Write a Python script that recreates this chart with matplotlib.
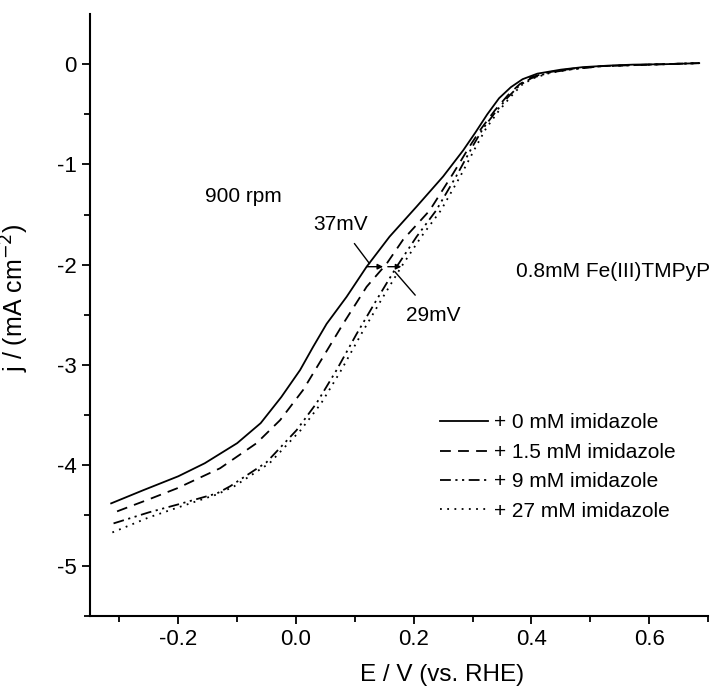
import numpy as np
import matplotlib
matplotlib.use('Agg')
import matplotlib.pyplot as plt

plt.rcParams['font.family'] = ['Liberation Sans', 'DejaVu Sans']
plt.rcParams['axes.unicode_minus'] = False

# polarisation curves: E (V vs RHE), j (mA cm-2)
e_0mM = [-0.314, -0.26, -0.2, -0.155, -0.10, -0.06, -0.025, 0.007, 0.029, 0.052, 0.086, 0.12,
         0.159, 0.205, 0.25, 0.284, 0.305, 0.325, 0.345, 0.365, 0.385, 0.41, 0.45, 0.487,
         0.53, 0.572, 0.63, 0.685]
j_0mM = [-4.38, -4.25, -4.11, -3.98, -3.78, -3.58, -3.32, -3.05, -2.82, -2.59, -2.32, -2.02,
         -1.72, -1.42, -1.12, -0.86, -0.68, -0.50, -0.34, -0.23, -0.15, -0.095, -0.055, -0.03,
         -0.015, -0.005, 0.0, 0.01]

e_1_5mM = [-0.304, -0.25, -0.202, -0.129, -0.067, -0.027, 0.012, 0.046, 0.080, 0.12, 0.154,
           0.182, 0.227, 0.267, 0.295, 0.315, 0.338, 0.36, 0.38, 0.40, 0.43, 0.47, 0.52, 0.6, 0.685]
j_1_5mM = [-4.46, -4.34, -4.23, -4.03, -3.78, -3.55, -3.25, -2.92, -2.59, -2.22, -1.99,
           -1.75, -1.46, -1.09, -0.82, -0.64, -0.46, -0.31, -0.20, -0.13, -0.08, -0.045, -0.02,
           -0.005, 0.01]

e_9mM = [-0.31, -0.25, -0.2, -0.134, -0.112, -0.05, 0.001, 0.035, 0.069, 0.103, 0.137, 0.171,
         0.205, 0.238, 0.272, 0.30, 0.318, 0.34, 0.36, 0.38, 0.40, 0.43, 0.47, 0.52, 0.6, 0.685]
j_9mM = [-4.58, -4.47, -4.39, -4.28, -4.21, -3.97, -3.65, -3.38, -3.05, -2.69, -2.35, -2.02,
         -1.72, -1.46, -1.12, -0.82, -0.64, -0.47, -0.33, -0.21, -0.14, -0.085, -0.05, -0.02,
         -0.005, 0.01]

e_27mM = [-0.312, -0.25, -0.2, -0.134, -0.105, -0.045, 0.008, 0.043, 0.077, 0.111, 0.145, 0.179,
          0.213, 0.246, 0.279, 0.306, 0.323, 0.344, 0.364, 0.383, 0.403, 0.433, 0.47, 0.52, 0.6, 0.685]
j_27mM = [-4.67, -4.52, -4.42, -4.29, -4.21, -3.98, -3.65, -3.38, -3.05, -2.69, -2.35, -2.02,
          -1.72, -1.46, -1.12, -0.82, -0.64, -0.47, -0.33, -0.21, -0.14, -0.085, -0.05, -0.02,
          -0.005, 0.01]

labels = ['+ 0 mM imidazole', '+ 1.5 mM imidazole', '+ 9 mM imidazole', '+ 27 mM imidazole']
styles = ['-', (0, (6, 4)), (0, (6, 2.5, 1.2, 2.5, 1.2, 2.5)), (0, (1, 3))]

fig = plt.figure(figsize=(7.12, 6.93), dpi=100)
ax = fig.add_axes([0.1264, 0.1116, 0.868, 0.8682])

curves = [(e_0mM, j_0mM), (e_1_5mM, j_1_5mM), (e_9mM, j_9mM), (e_27mM, j_27mM)]
for (e, j), ls, lab in zip(curves, styles, labels):
    ax.plot(e, j, color='black', lw=1.3, ls=ls, label=lab)

ax.set_xlim(-0.35, 0.7)
ax.set_ylim(-5.5, 0.5)
ax.set_xticks([-0.2, 0.0, 0.2, 0.4, 0.6])
ax.set_xticks(np.arange(-0.3, 0.71, 0.1), minor=True)
ax.set_yticks([0, -1, -2, -3, -4, -5])
ax.set_yticks(np.arange(-5.5, 0.1, 0.5), minor=True)
ax.set_xticklabels(['-0.2', '0.0', '0.2', '0.4', '0.6'])
ax.tick_params(which='major', direction='out', length=6, width=1.3, labelsize=16)
ax.tick_params(which='minor', direction='out', length=4, width=1.3)

for side in ['top', 'right']:
    ax.spines[side].set_visible(False)
for side in ['left', 'bottom']:
    ax.spines[side].set_linewidth(1.5)

ax.set_xlabel('E / V (vs. RHE)', fontsize=17.5)
ax.set_ylabel('j / (mA cm$^{-2}$)', fontsize=18)
ax.xaxis.set_label_coords(0.57, -0.08)
ax.yaxis.set_label_coords(-0.095, 0.528)

ax.text(-0.154, -1.32, '900 rpm', fontsize=15, va='center', ha='left')
ax.text(0.373, -2.07, '0.8mM Fe(III)TMPyP', fontsize=15, va='center', ha='left')

# shift arrows at j = -2 mA cm-2
arrow = dict(arrowstyle='-|>', color='black', lw=1.0, mutation_scale=8, shrinkA=0, shrinkB=0)
ax.annotate('', xy=(0.148, -2.02), xytext=(0.12, -2.02), arrowprops=arrow)
ax.annotate('', xy=(0.179, -2.02), xytext=(0.156, -2.02), arrowprops=arrow)
ax.annotate('37mV', xy=(0.125, -1.99), xytext=(0.075, -1.6), fontsize=15, ha='center', va='center',
            arrowprops=dict(arrowstyle='-', color='black', lw=1.0, shrinkA=6, shrinkB=0))
ax.annotate('29mV', xy=(0.168, -2.07), xytext=(0.233, -2.51), fontsize=15, ha='center', va='center',
            arrowprops=dict(arrowstyle='-', color='black', lw=1.0, shrinkA=8, shrinkB=0))

ax.legend(loc='center left', bbox_to_anchor=(0.566, 0.247), frameon=False, fontsize=15,
          handlelength=2.3, handletextpad=0.3, labelspacing=0.5, borderpad=0, borderaxespad=0)

fig.savefig('out.png', dpi=100)
